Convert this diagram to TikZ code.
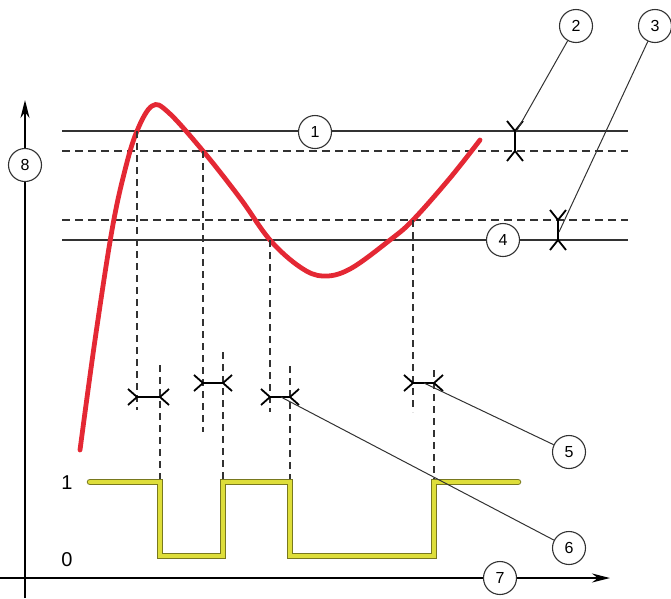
\documentclass[tikz,border=0pt]{standalone}
\usepackage{fontspec}
\setmainfont{Liberation Sans}
\usetikzlibrary{arrows.meta}
\definecolor{alarmred}{RGB}{228,40,52}
\definecolor{relayyellow}{RGB}{222,222,58}
\definecolor{relayedge}{RGB}{120,120,30}
\definecolor{linegray}{RGB}{50,50,50}
\tikzset{
    >={Stealth[length=18pt,width=9pt]},
    callout/.style={circle,draw=linegray,line width=1.1pt,minimum size=33pt,inner sep=0pt,font=\fontsize{16}{16}\selectfont},
    level/.style={draw=linegray,line width=1.6pt},
    band/.style={draw=linegray,line width=1.6pt,dash pattern=on 8pt off 5pt},
    guide/.style={draw=linegray,line width=1.2pt,dash pattern=on 7pt off 5pt},
    leader/.style={draw=linegray,line width=1pt},
    delay/.style={draw=black,line width=1.8pt}
}

\begin{document}
\begin{tikzpicture}[x=1pt,y=-1pt,
                    armleft/.pic={\draw[delay] (-9,-8) -- (0,0) -- (-9,8);},
                    armright/.pic={\draw[delay] (9,-8) -- (0,0) -- (9,8);},
                    armup/.pic={\draw[delay] (-8,-10) -- (0,0) -- (8,-10);},
                    armdown/.pic={\draw[delay] (-8,10) -- (0,0) -- (8,10);}]
\useasboundingbox (0,0) rectangle (671,598);

% Axes
\coordinate (yb) at (25,598);
\coordinate (yt) at (25,100);
\coordinate (xl) at (0,578);
\coordinate (xr) at (610,578);
\draw[line width=1.7pt,->] (yb) -- (yt);
\draw[line width=1.7pt,->] (xl) -- (xr);
\node[callout,fill=white] (c8) at (25,165) {8};
\node[callout,fill=white] (c7) at (500,578) {7};
\node[font=\fontsize{20}{20}\selectfont] (one) at (67,483) {1};
\node[font=\fontsize{20}{20}\selectfont] (zero) at (67,560) {0};

% Set points
\coordinate (hi1) at (62,131);
\coordinate (hi2) at (628,131);
\coordinate (hd1) at (62,151);
\coordinate (hd2) at (628,151);
\coordinate (ld1) at (62,220);
\coordinate (ld2) at (628,220);
\coordinate (lo1) at (62,240);
\coordinate (lo2) at (628,240);
\draw[level] (hi1) -- (hi2);
\draw[band] (hd1) -- (hd2);
\draw[band] (ld1) -- (ld2);
\draw[level] (lo1) -- (lo2);
\node[callout,fill=white] (c1) at (315,132) {1};
\node[callout,fill=white] (c4) at (503,240) {4};

% Measured value
\draw[alarmred,line width=4.8pt,line cap=round] plot[smooth,tension=0.6] coordinates {
    (80,450) (95,340) (112,230) (125,170) (137,131) (152,106) (168,112)
    (203,151) (240,198) (270,240) (300,267) (323,276) (350,269)
    (390,240) (413,220) (450,178) (480,140)};

% Delay guides
\foreach \x/\ya/\yb in {137/131/410, 203/151/432, 270/240/412, 413/220/412}
    \draw[guide] (\x,\ya) -- (\x,\yb);
\foreach \x/\ya in {160/365, 223/352, 290/366, 434/370}
    \draw[guide] (\x,\ya) -- (\x,482);

% Delay bars
\draw[delay] (137,397) -- (160,397);
\pic at (137,397) {armleft};
\pic at (160,397) {armright};
\draw[delay] (203,383) -- (223,383);
\pic at (203,383) {armleft};
\pic at (223,383) {armright};
\draw[delay] (270,397) -- (290,397);
\pic at (270,397) {armleft};
\pic at (290,397) {armright};
\draw[delay] (413,383) -- (434,383);
\pic at (413,383) {armleft};
\pic at (434,383) {armright};

% Deadbands
\draw[delay] (515,131) -- (515,151);
\pic at (515,131) {armup};
\pic at (515,151) {armdown};
\draw[delay] (558,220) -- (558,240);
\pic at (558,220) {armup};
\pic at (558,240) {armdown};

% Relay output
\draw[relayedge,line width=6.5pt,line join=miter,line cap=round]
    (90,482) -- (160,482) -- (160,556) -- (223,556) -- (223,482) -- (290,482)
    -- (290,556) -- (434,556) -- (434,482) -- (518,482);
\draw[relayyellow,line width=4.5pt,line join=miter,line cap=round]
    (90,482) -- (160,482) -- (160,556) -- (223,556) -- (223,482) -- (290,482)
    -- (290,556) -- (434,556) -- (434,482) -- (518,482);

% Callouts
\node[callout] (c2) at (576,26) {2};
\node[callout] (c3) at (655,26) {3};
\node[callout] (c5) at (569,452) {5};
\node[callout] (c6) at (569,548) {6};
\coordinate (p2) at (516,132);
\coordinate (p3) at (559,232);
\coordinate (p5) at (424,383);
\coordinate (p6) at (281,397);
\draw[leader] (c2) -- (p2);
\draw[leader] (c3) -- (p3);
\draw[leader] (c5) -- (p5);
\draw[leader] (c6) -- (p6);

\end{tikzpicture}
\end{document}
